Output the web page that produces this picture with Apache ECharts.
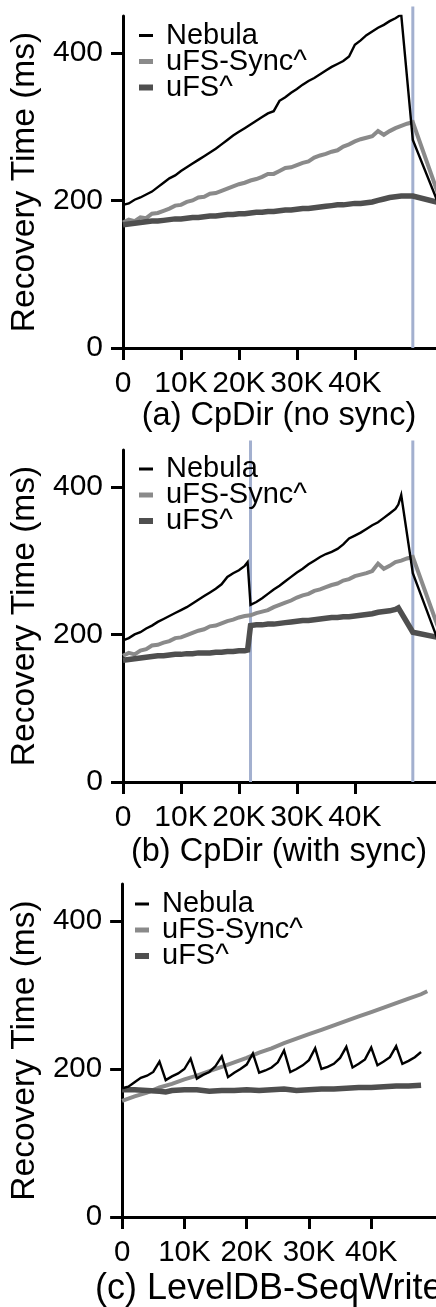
<!DOCTYPE html>
<html>
<head>
<meta charset="utf-8">
<script src="https://cdn.jsdelivr.net/npm/echarts@6/dist/echarts.min.js"></script>
<style>
html,body{margin:0;padding:0;background:#fff;}
#c{width:436px;height:1307px;}
</style>
</head>
<body>
<div id="c"></div>
<script>
// ---- data (x in thousands of operations, y in ms) ----
const seriesNames = ['Nebula', 'uFS-Sync^', 'uFS^'];
const xTicks = [0, 10, 20, 30, 40];
const yTicks = [0, 200, 400];
const panelTitles = ['(a) CpDir (no sync)', '(b) CpDir (with sync)', '(c) LevelDB-SeqWrite'];
const yName = 'Recovery Time (ms)';

const checkpointsA = [50];
const checkpointsB = [22, 50];

const aNebula = [[0,194],[1,196],[2,201],[3,204],[4,208],[5,212],[6,218],[7,224],[8,230],[9,234],[10,240],[11,245],[12,250],[13,255],[14,260],[15,265],[16,270],[17,276],[18,282],[19,288],[20,293],[21,298],[22,303],[23,308],[24,313],[25,318],[26,321],[27,335],[28,340],[29,346],[30,351],[31,357],[32,362],[33,366],[34,371],[35,376],[36,381],[37,385],[38,389],[39,395],[40,411],[41,417],[42,424],[43,429],[44,434],[45,438],[46,443],[47,447],[48,452],[50,282],[55,184]];
const aSync = [[0,170],[1,174],[2,172],[3,177],[4,176],[5,182],[6,183],[7,186],[8,189],[9,193],[10,194],[11,198],[12,200],[13,204],[14,205],[15,209],[16,210],[17,213],[18,216],[19,219],[20,222],[21,224],[22,227],[23,229],[24,232],[25,236],[26,236],[27,240],[28,244],[29,245],[30,248],[31,251],[32,253],[33,258],[34,261],[35,263],[36,266],[37,268],[38,273],[39,276],[40,280],[41,283],[42,285],[43,287],[44,294],[45,289],[46,294],[47,298],[48,301],[49,304],[50,306],[55,195]];
const aUfs = [[0,167],[1,168],[2,169],[3,170],[4,171],[5,172],[6,172],[7,173],[8,174],[9,175],[10,175],[11,176],[12,177],[13,177],[14,178],[15,179],[16,179],[17,180],[18,181],[19,181],[20,182],[21,182],[22,183],[23,184],[24,184],[25,185],[26,185],[27,186],[28,187],[29,187],[30,188],[31,189],[32,189],[33,190],[34,191],[35,192],[36,193],[37,194],[38,194],[39,195],[40,196],[41,196],[42,197],[43,198],[44,200],[45,202],[46,204],[47,205],[48,206],[49,206],[50,206],[55,196]];

const bNebula = [[0,192],[1,195],[2,200],[3,203],[4,208],[5,212],[6,217],[7,221],[8,225],[9,229],[10,233],[11,237],[12,242],[13,247],[14,252],[15,257],[16,262],[17,268],[18,278],[19,283],[20,287],[21,293],[21.5,298],[22,240],[23,244],[24,249],[25,255],[26,261],[27,266],[28,272],[29,278],[30,284],[31,289],[32,295],[33,300],[34,305],[35,309],[36,312],[37,316],[38,322],[39,330],[40,334],[41,338],[42,343],[43,348],[44,352],[45,358],[46,364],[47,370],[47.5,376],[48,389],[50,283],[55,178]];
const bSync = [[0,171],[1,175],[2,173],[3,178],[4,180],[5,185],[6,186],[7,189],[8,191],[9,195],[10,196],[11,199],[12,202],[13,205],[14,207],[15,211],[16,212],[17,215],[18,218],[19,220],[20,223],[21,225],[22,226],[23,229],[24,231],[25,233],[26,237],[27,240],[28,243],[29,246],[30,250],[31,253],[32,255],[33,259],[34,261],[35,264],[36,267],[37,269],[38,273],[39,275],[40,279],[41,281],[42,283],[43,286],[44,296],[45,289],[46,293],[47,298],[48,300],[49,303],[50,305],[55,196]];
const bUfs = [[0,165],[1,166],[2,167],[3,168],[4,169],[5,170],[6,171],[7,171],[8,172],[9,173],[10,173],[11,174],[12,174],[13,175],[14,175],[15,175],[16,176],[17,176],[18,177],[19,177],[20,178],[21,178],[21.5,179],[22,212],[23,213],[24,213],[25,214],[26,214],[27,215],[28,216],[29,217],[30,218],[31,219],[32,219],[33,220],[34,221],[35,222],[36,223],[37,223],[38,224],[39,224],[40,225],[41,226],[42,227],[43,228],[44,230],[45,231],[46,232],[47,234],[47.5,236],[50,203],[55,195]];

const cNebula = [[0,174],[1,176],[2,182],[3,188],[4,191],[5,196],[6,210],[7,185],[8,190],[9,194],[10,200],[11,214],[12,187],[13,192],[14,196],[15,204],[16,217],[17,189],[18,195],[19,200],[20,206],[21,221],[22,195],[23,198],[24,202],[25,209],[26,225],[27,196],[28,200],[29,205],[30,212],[31,228],[32,200],[33,203],[34,207],[35,215],[36,230],[37,202],[38,207],[39,213],[40,229],[41,205],[42,210],[43,216],[44,231],[45,207],[46,211],[47,216],[48,223]];
const cSync = [[0,157],[2,163],[4,168],[6,175],[8,180],[10,186],[12,191],[14,197],[16,203],[18,209],[20,215],[22,222],[24,228],[26,235],[28,241],[30,247],[32,253],[34,259],[36,265],[38,271],[40,277],[42,283],[44,289],[46,295],[48,301],[49,305]];
const cUfs = [[0,172],[2,172],[4,171],[6,170],[7,169],[8,171],[10,172],[12,172],[14,170],[16,171],[18,171],[20,172],[22,171],[24,172],[26,173],[28,171],[30,172],[32,173],[34,173],[36,174],[38,175],[40,175],[42,176],[44,177],[46,177],[48,178]];

// ---- styling ----
const FONT = 'Liberation Sans, Arial, Helvetica, sans-serif';
const colors = { 'Nebula': '#000000', 'uFS-Sync^': '#8a8a8a', 'uFS^': '#4f4f4f' };
const widths = { 'Nebula': 2.4, 'uFS-Sync^': 4, 'uFS^': 5.5 };
const legendIcons = {
  'Nebula': 'path://M0,0L0,0M0,5.5L14,5.5L14,8.5L0,8.5ZM0,14L0,14',
  'uFS-Sync^': 'path://M0,0L0,0M0,4.5L14,4.5L14,9.5L0,9.5ZM0,14L0,14',
  'uFS^': 'path://M0,0L0,0M0,4L14,4L14,10L0,10ZM0,14L0,14'
};
const BLUE = '#a3b0cf';

const panels = [
  { grid: { left: 123, top: 16, width: 313, height: 332 }, xMax: 54, data: [aNebula, aSync, aUfs], marks: checkpointsA, legend: { left: 139, top: 21 }, title: { x: 279, y: 416, align: 'center', size: 32.5 }, tickSize: 30 },
  { grid: { left: 123, top: 450, width: 313, height: 332 }, xMax: 54, data: [bNebula, bSync, bUfs], marks: checkpointsB, legend: { left: 139, top: 454.5 }, title: { x: 279, y: 852, align: 'center', size: 32.5 }, tickSize: 30 },
  { grid: { left: 119, top: 884, width: 317, height: 333 }, xMax: 50.4, data: [cNebula, cSync, cUfs], marks: [], legend: { left: 135, top: 889.5 }, title: { x: 95, y: 1289, align: 'left', size: 36 }, tickSize: 29.5 }
];

const option = {
  animation: false,
  backgroundColor: '#ffffff',
  grid: [], xAxis: [], yAxis: [], series: [], legend: [], graphic: []
};

panels.forEach((p, i) => {
  option.grid.push(Object.assign({ containLabel: false }, p.grid));
  option.xAxis.push({
    type: 'value', gridIndex: i, min: 0, max: p.xMax,
    axisLine: { show: true, lineStyle: { color: '#000', width: 3 } },
    axisTick: { show: true, customValues: xTicks, length: 12, lineStyle: { color: '#000', width: 3 } },
    axisLabel: { customValues: xTicks, margin: 21, color: '#000', fontSize: p.tickSize, fontFamily: FONT,
      formatter: v => v === 0 ? '0' : v + 'K' },
    splitLine: { show: false }
  });
  option.yAxis.push({
    type: 'value', gridIndex: i, min: 0, max: 450,
    name: yName, nameLocation: 'middle', nameGap: 75,
    nameTextStyle: { color: '#000', fontSize: 33.5, fontFamily: FONT },
    axisLine: { show: true, lineStyle: { color: '#000', width: 3 } },
    axisTick: { show: true, customValues: yTicks, length: 12, lineStyle: { color: '#000', width: 3 } },
    axisLabel: { customValues: yTicks, margin: 20, color: '#000', fontSize: p.tickSize, fontFamily: FONT },
    splitLine: { show: false }
  });
  p.marks.forEach(m => {
    option.series.push({
      type: 'line', xAxisIndex: i, yAxisIndex: i, silent: true, clip: false,
      symbol: 'none', data: [[m, 0], [m, 463]],
      lineStyle: { color: BLUE, width: 3 }, z: 1
    });
  });
  // draw order: uFS-Sync^, uFS^, Nebula (Nebula on top)
  [1, 2, 0].forEach(k => {
    const name = seriesNames[k];
    option.series.push({
      name, type: 'line', xAxisIndex: i, yAxisIndex: i, data: p.data[k],
      symbol: 'none', showSymbol: false, clip: true, z: 2 + (k === 0 ? 2 : (k === 2 ? 1 : 0)),
      lineStyle: { color: colors[name], width: widths[name], join: 'miter' },
      itemStyle: { color: colors[name] }
    });
  });
  option.legend.push({
    left: p.legend.left, top: p.legend.top, orient: 'vertical', padding: 0,
    itemGap: -3, itemWidth: 14, itemHeight: 14, selectedMode: false,
    textStyle: { color: '#000', fontSize: 29, fontFamily: FONT, lineHeight: 27, padding: [0, 0, 0, 8] },
    data: seriesNames.map(n => ({ name: n, icon: legendIcons[n], itemStyle: { color: colors[n], borderWidth: 0 } }))
  });
  option.graphic.push({
    type: 'text', x: p.title.x, y: p.title.y, silent: true,
    style: { text: panelTitles[i], fill: '#000', fontSize: p.title.size, fontFamily: FONT,
      align: p.title.align, verticalAlign: 'middle' }
  });
});

const chart = echarts.init(document.getElementById('c'), null, { renderer: 'canvas' });
chart.setOption(option);
</script>
</body>
</html>
